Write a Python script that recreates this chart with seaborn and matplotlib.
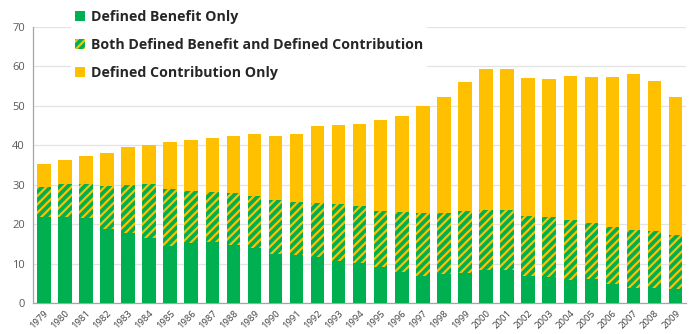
import matplotlib
matplotlib.use("Agg")
import matplotlib.pyplot as plt
import seaborn as sns
import numpy as np
import pandas as pd
from matplotlib.patches import Patch
from matplotlib.ticker import FixedLocator

years = [str(y) for y in range(1979, 2010)]
db_only = [21.8, 21.9, 21.5, 18.7, 17.7, 16.5, 14.6, 15.2, 15.6, 14.8, 13.9, 12.5, 12.2, 11.7, 10.7, 10.1,
           9.1, 8.0, 6.9, 7.4, 7.7, 8.3, 8.3, 6.9, 6.7, 5.9, 6.1, 4.9, 3.8, 3.8, 3.5]
both = [7.6, 8.2, 8.6, 11.0, 12.2, 13.6, 14.3, 13.3, 12.6, 13.2, 13.3, 13.7, 13.5, 13.7, 14.4, 14.4,
        14.3, 15.2, 15.9, 15.5, 15.7, 15.3, 15.3, 15.2, 15.1, 15.2, 14.2, 14.5, 14.8, 14.5, 13.8]
dc_only = [5.9, 6.2, 7.2, 8.3, 9.6, 10.0, 11.8, 12.8, 13.7, 14.3, 15.7, 16.2, 17.2, 19.5, 20.0, 21.0,
           23.1, 24.1, 27.1, 29.3, 32.7, 35.7, 35.6, 34.9, 34.9, 36.4, 37.0, 37.9, 39.4, 37.9, 34.9]
labels = ["Defined Benefit Only", "Both Defined Benefit and Defined Contribution", "Defined Contribution Only"]

GREEN = "#00B050"
YELLOW = "#FFC000"

df = pd.DataFrame({"year": years, "db": db_only, "both": both, "dc": dc_only})
df["top_both"] = df["db"] + df["both"]
df["total"] = df["top_both"] + df["dc"]

sns.set_style("white")
plt.rcParams["font.family"] = ["Open Sans", "DejaVu Sans"]
plt.rcParams["hatch.linewidth"] = 1.6

fig = plt.figure(figsize=(6.93, 3.34), dpi=100)
ax = fig.add_axes([0.048, 0.092, 0.942, 0.828])

sns.barplot(data=df, x="year", y="total", color=YELLOW, saturation=1, width=0.64, ax=ax, linewidth=0, zorder=2)
sns.barplot(data=df, x="year", y="top_both", color=GREEN, saturation=1, width=0.64, ax=ax, linewidth=0,
            hatch="////", edgecolor=YELLOW, zorder=3)
sns.barplot(data=df, x="year", y="db", color=GREEN, saturation=1, width=0.64, ax=ax, linewidth=0, zorder=4)

ax.set_xlim(-0.5, len(years) - 0.5)
ax.set_ylim(0, 70)
ax.set_yticks(range(0, 71, 10))
ax.yaxis.grid(True, color="#E3E3E3", linewidth=0.9, zorder=0)
ax.set_axisbelow(True)
ax.set_xlabel("")
ax.set_ylabel("")

for s in ["top", "right"]:
    ax.spines[s].set_visible(False)
for s in ["left", "bottom"]:
    ax.spines[s].set_color("#A6A6A6")
    ax.spines[s].set_linewidth(0.9)

ax.tick_params(axis="y", colors="#A6A6A6", length=3, width=0.9, labelsize=8, labelcolor="#595959", pad=3)
ax.tick_params(axis="x", which="major", length=0, labelsize=6.8, labelcolor="#404040", pad=4)
ax.xaxis.set_minor_locator(FixedLocator(np.arange(-0.5, len(years), 1)))
ax.tick_params(axis="x", which="minor", length=3, width=0.9, colors="#A6A6A6")
for lab in ax.get_xticklabels():
    lab.set_rotation(45)
    lab.set_ha("right")
    lab.set_rotation_mode("anchor")

handles = [
    Patch(facecolor=GREEN, edgecolor=GREEN, linewidth=0),
    Patch(facecolor=GREEN, edgecolor=YELLOW, hatch="////", linewidth=0),
    Patch(facecolor=YELLOW, edgecolor=YELLOW, linewidth=0),
]
leg = ax.legend(handles, labels, loc="upper left", bbox_to_anchor=(0.047, 1.10), frameon=True,
                facecolor="white", edgecolor="none", framealpha=1, fancybox=False,
                prop={"weight": "bold", "size": 10.2}, handlelength=0.7, handleheight=0.7,
                handletextpad=0.4, labelspacing=0.98, borderpad=0.3)
leg.set_zorder(10)

fig.savefig("out.png", dpi=100)
